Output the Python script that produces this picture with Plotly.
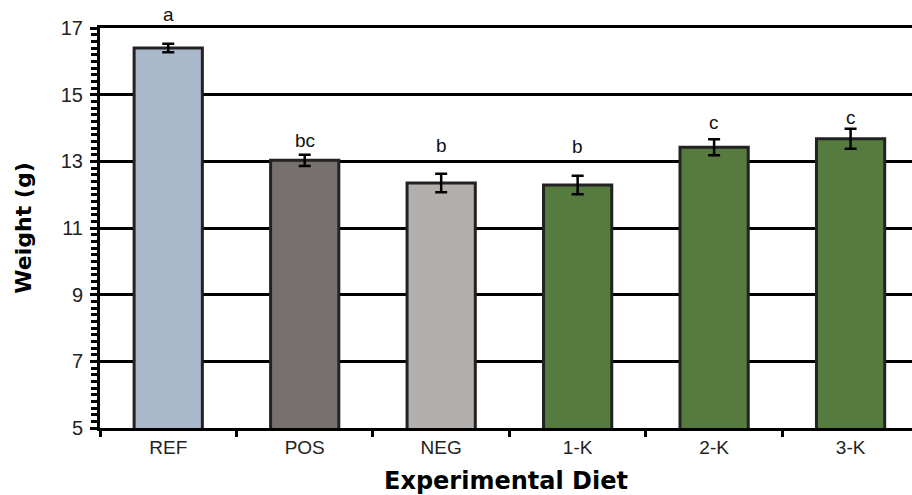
import plotly.graph_objects as go

categories = ["REF", "POS", "NEG", "1-K", "2-K", "3-K"]
weights = [16.4, 13.03, 12.35, 12.29, 13.42, 13.68]
errors = [0.13, 0.17, 0.28, 0.28, 0.24, 0.3]
letters = ["a", "bc", "b", "b", "c", "c"]
letter_y = [17.42, 13.62, 13.49, 13.46, 14.18, 14.31]
colors = ["#aab8cc", "#76716f", "#b3afad", "#557b3f", "#557b3f", "#557b3f"]
y_ticks = [5, 7, 9, 11, 13, 15, 17]

fig = go.Figure()
fig.add_trace(go.Bar(
    x=categories, y=weights, width=0.5,
    marker=dict(color=colors, line=dict(color="#222222", width=3)),
    error_y=dict(type="data", array=errors, color="black", thickness=2.5, width=6),
    base=0,
))

# letters anchored (invisible arrow) at the error-bar top, text placed at letter_y in data units
for c, w, e, ly, l in zip(categories, weights, errors, letter_y, letters):
    fig.add_annotation(
        x=c, y=w + e, ax=c, ay=ly, axref="x", ayref="y", text=l,
        showarrow=True, arrowhead=0, arrowwidth=0.5, arrowcolor="rgba(0,0,0,0)",
        font=dict(family="Liberation Sans, Arial", size=19, color="#111"),
    )

fig.update_layout(
    width=912, height=495,
    margin=dict(l=100, r=0, t=28, b=67),
    plot_bgcolor="white", paper_bgcolor="white",
    showlegend=False, bargap=0.5,
    font=dict(family="Liberation Sans, Arial", color="#222"),
)
fig.update_xaxes(
    range=[-0.5, 5.45], tickson="boundaries", ticks="outside", ticklen=6, tickwidth=3,
    tickcolor="black", showline=True, linecolor="black", linewidth=3, mirror=True,
    tickfont=dict(size=19, color="#222"), showgrid=False, automargin=False,
    title=dict(text="Experimental Diet", font=dict(family="DejaVu Sans", size=24, color="black", weight="bold"), standoff=16),
)
fig.update_yaxes(
    range=[5, 17], tickvals=y_ticks, ticks="outside", ticklen=7, tickwidth=3,
    tickcolor="black", showline=True, linecolor="black", linewidth=3,
    showgrid=True, gridcolor="black", gridwidth=3, zeroline=False,
    minor=dict(dtick=0.2, ticks="outside", ticklen=6, tickwidth=2.5, tickcolor="black", showgrid=False),
    tickfont=dict(size=20, color="#222"), ticklabelstandoff=3, automargin=False,
    title=dict(text="Weight (g)", font=dict(family="DejaVu Sans", size=22, color="black", weight="bold"), standoff=24),
)

# remove the browser's default 8px body margin so the figure sits at the page origin
fig.write_html(
    "out.html",
    config={"displayModeBar": False},
    post_script="document.body.style.margin='0px';document.body.style.overflow='hidden';",
)
